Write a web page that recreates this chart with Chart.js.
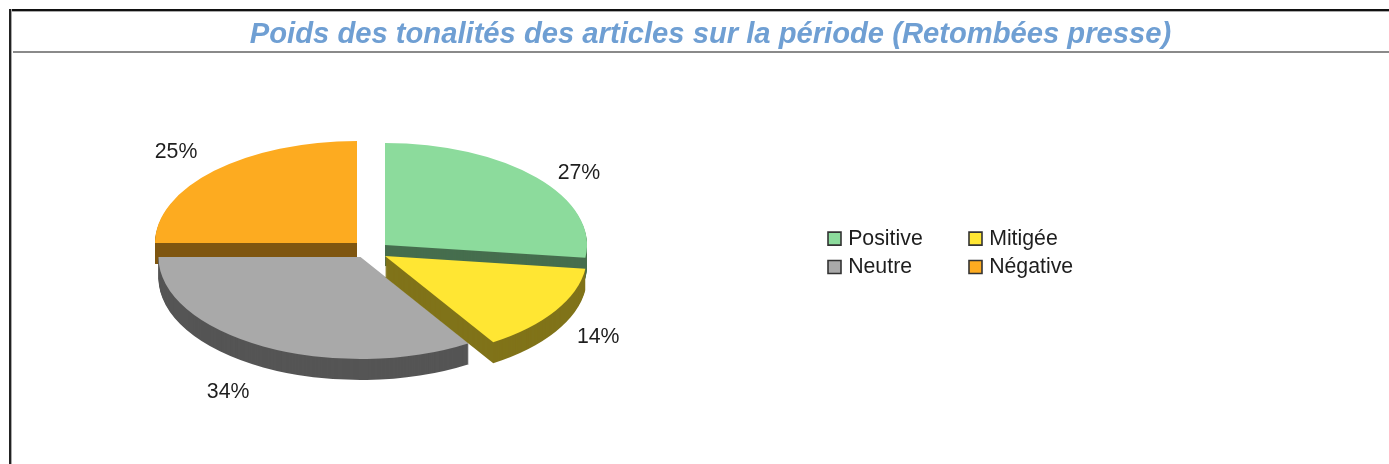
<!DOCTYPE html>
<html lang="fr">
<head>
<meta charset="utf-8">
<title>Poids des tonalités</title>
<script src="https://cdn.jsdelivr.net/npm/chart.js@4"></script>
<style>
html,body{margin:0;padding:0;background:#fff;overflow:hidden;width:1389px;height:464px}
#wrap{position:relative;width:1389px;height:464px}
#wrap canvas{position:absolute;left:0;top:0;filter:blur(.35px)}
.l{position:absolute}
</style>
</head>
<body>
<div id="wrap">
<canvas id="c" width="1389" height="464"></canvas>
<div class="l" style="left:9px;top:9px;width:1380px;height:2px;background:#111;box-shadow:0 1px 0 #aaa"></div>
<div class="l" style="left:9px;top:9px;width:2px;height:455px;background:#222;box-shadow:1px 0 0 #aaa"></div>
<div class="l" style="left:13px;top:51px;width:1376px;height:2px;background:#8a8a8a"></div>
</div>
<script>
const titleText = 'Poids des tonalités des articles sur la période (Retombées presse)';
const categories = ['Positive', 'Mitigée', 'Neutre', 'Négative'];
const values = [27, 14, 34, 25];
const topColors = ['#8cdb9c', '#ffe633', '#a9a9a9', '#fdab20'];
const sideColors = ['#466e4e', '#807319', '#555555', '#7f5610'];

// presentation settings of the tilted, exploded pie
const tilt = 0.505, depth = 21;
const explode = [[14, -5], [14, 6], [-10.5, 7], [-14, -7]];
const paintOrder = [3, 0, 2, 1];
const labelFactor = [[1.28, 1.08], [1.25, 1.46], [1.36, 1.5], [1.267, 1.27]];
const textFont = '"Liberation Sans", Arial, sans-serif';
const textColor = '#1e1e1e';

const pie3d = {
  id: 'pie3d',
  afterLayout(chart) {
    chart.chartArea = {left: 169, right: 573, top: 48, bottom: 452, width: 404, height: 404};
    const t = chart.titleBlock;
    t.left = 0; t.right = 1421; t.top = 17; t.bottom = 51;
    const lg = chart.legend;
    lg.left = 824.5; lg.right = 1100; lg.top = 221; lg.bottom = 291;
    lg.columnSizes = [{width: 134, height: 56}, {width: 100, height: 56}];
  },
  beforeDatasetDraw(chart, args) {
    const ctx = chart.ctx;
    const arcs = chart.getDatasetMeta(args.index).data;
    const cy = (chart.chartArea.top + chart.chartArea.bottom) / 2;
    const paint = (arc, dx, dy, color) => {
      const orig = arc.options;
      const o = Object.create(orig);
      o.backgroundColor = color;
      arc.options = o;
      ctx.save();
      ctx.translate(dx, dy + cy);
      ctx.scale(1, tilt);
      ctx.translate(0, -cy);
      arc.draw(ctx);
      ctx.restore();
      arc.options = orig;
    };
    paintOrder.forEach(i => {
      const [dx, dy] = explode[i];
      for (let d = depth; d >= 1; d--) paint(arcs[i], dx, dy + d, sideColors[i]);
      paint(arcs[i], dx, dy, topColors[i]);
    });
    return false;
  },
  afterDatasetsDraw(chart) {
    const ctx = chart.ctx;
    const arcs = chart.getDatasetMeta(0).data;
    ctx.save();
    ctx.font = '21.3px ' + textFont;
    ctx.fillStyle = textColor;
    ctx.textAlign = 'center';
    ctx.textBaseline = 'middle';
    arcs.forEach((arc, i) => {
      const mid = (arc.startAngle + arc.endAngle) / 2;
      const x = arc.x + explode[i][0] + Math.cos(mid) * arc.outerRadius * labelFactor[i][0];
      const y = arc.y + explode[i][1] + Math.sin(mid) * arc.outerRadius * tilt * labelFactor[i][1] + 1;
      ctx.fillText(values[i] + '%', x, y);
    });
    ctx.restore();
  }
};

new Chart(document.getElementById('c'), {
  type: 'pie',
  data: {
    labels: categories,
    datasets: [{data: values, backgroundColor: topColors, borderWidth: 0}]
  },
  options: {
    responsive: false,
    animation: false,
    events: [],
    plugins: {
      tooltip: {enabled: false},
      title: {
        display: true,
        text: titleText,
        color: '#6f9fd3',
        padding: 0,
        font: {family: textFont, size: 29.2, weight: 'bold', style: 'italic', lineHeight: 1.2}
      },
      legend: {
        display: true,
        position: 'right',
        align: 'start',
        labels: {
          usePointStyle: true,
          boxWidth: 6,
          boxHeight: 13,
          padding: 7,
          color: textColor,
          font: {family: textFont, size: 21.3},
          generateLabels() {
            // column-wise order so the legend reads row by row as in the picture
            return [0, 2, 1, 3].map(i => ({
              text: categories[i],
              fillStyle: topColors[i],
              strokeStyle: '#333333',
              lineWidth: 1.6,
              pointStyle: 'rect',
              fontColor: textColor,
              index: i
            }));
          }
        }
      }
    }
  },
  plugins: [pie3d]
});
</script>
</body>
</html>
